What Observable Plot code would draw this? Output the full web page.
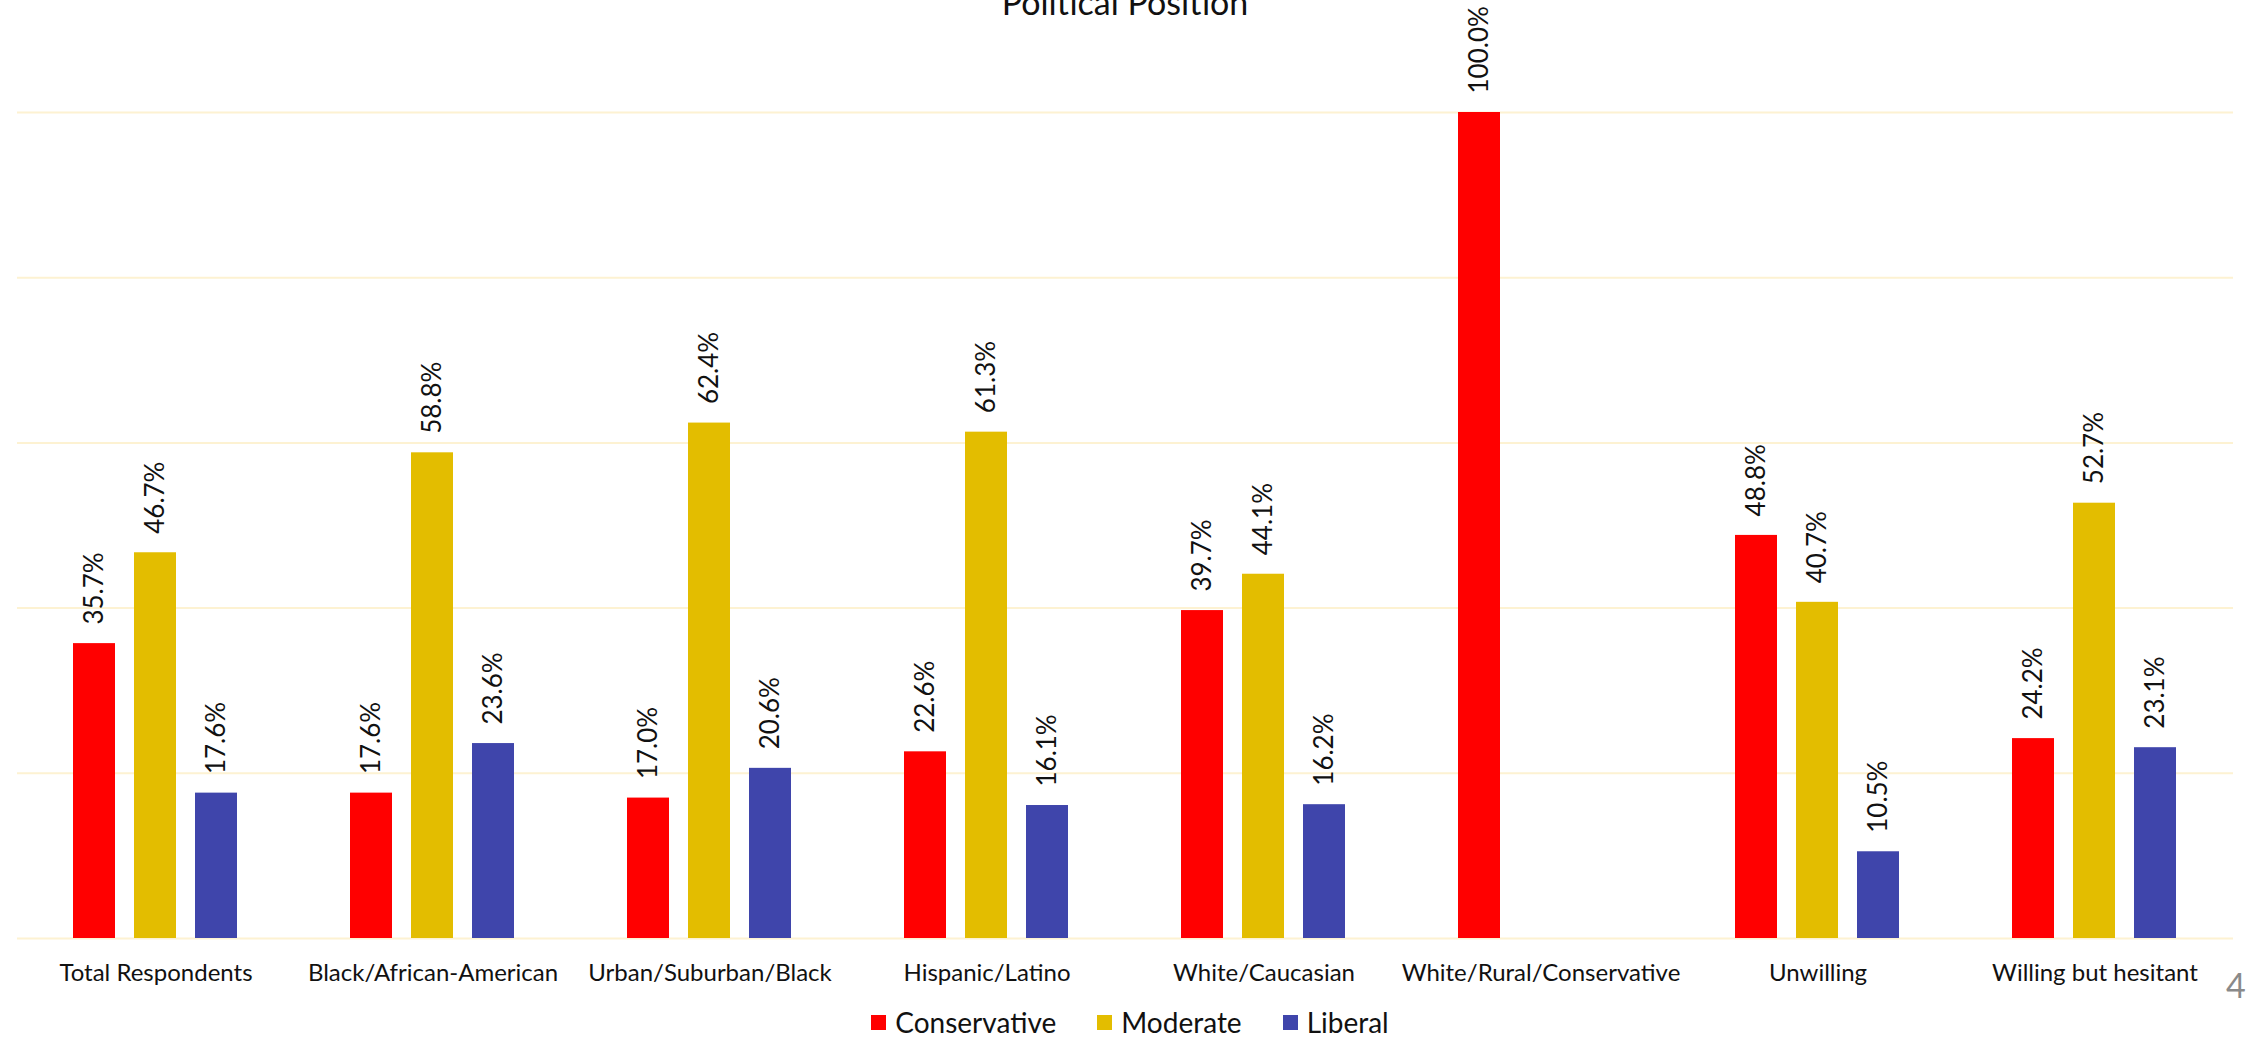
<!DOCTYPE html>
<html>
<head>
<meta charset="utf-8">
<script src="https://cdn.jsdelivr.net/npm/d3@7"></script>
<script src="https://cdn.jsdelivr.net/npm/@observablehq/plot@0.6"></script>
<style>
html, body { margin: 0; padding: 0; background: #fff; overflow: hidden; width: 2250px; height: 1038px; }
#wrap { position: relative; width: 2250px; height: 1038px; font-family: Lato, sans-serif; overflow: hidden; }
#title { position: absolute; left: 0; top: -15px; width: 2250px; text-align: center; font-size: 34px; line-height: 1; color: #111; }
#chart { position: absolute; left: 0; top: 0; }
#legend { position: absolute; left: 0; top: 1008px; width: 2250px; padding-left: 10px; box-sizing: border-box; line-height: 1; }
#legend > div { justify-content: center !important; font-size: 28px !important; font-family: Lato, sans-serif !important; color: #111 !important; margin: 0 !important; min-height: 28px !important; line-height: 1 !important; }
#legend [class$="-swatch"] { margin-right: 41px !important; line-height: 1 !important; }
#legend [class$="-swatch"]:last-child { margin-right: 0 !important; }
#legend [class$="-swatch"] > svg { margin-right: 9px !important; }
#pagenum { position: absolute; left: 2226px; top: 968px; font-size: 34px; line-height: 1; color: #8a8a8a; font-family: Lato, sans-serif; }
</style>
</head>
<body>
<div id="wrap">
  <div id="chart"></div>
  <div id="title">Political Position</div>
  <div id="legend"></div>
  <div id="pagenum">4</div>
</div>
<script>
const categories = ["Total Respondents", "Black/African-American", "Urban/Suburban/Black", "Hispanic/Latino", "White/Caucasian", "White/Rural/Conservative", "Unwilling", "Willing but hesitant"];
const series = ["Conservative", "Moderate", "Liberal"];
const conservative = [35.7, 17.6, 17.0, 22.6, 39.7, 100.0, 48.8, 24.2];
const moderate = [46.7, 58.8, 62.4, 61.3, 44.1, 0, 40.7, 52.7];
const liberal = [17.6, 23.6, 20.6, 16.1, 16.2, 0, 10.5, 23.1];
const colors = ["#ff0000", "#e3bd00", "#3f45ab"];
const gridTicks = [0, 20, 40, 60, 80, 100];

const seriesValues = [conservative, moderate, liberal];
const rows = categories.flatMap((c, i) =>
  series.map((s, j) => ({group: c, series: s, value: seriesValues[j][i]}))
).filter(d => d.value > 0);

const chart = Plot.plot({
  width: 2250,
  height: 995,
  marginTop: 112,
  marginBottom: 57,
  marginLeft: 14,
  marginRight: 15,
  style: {fontFamily: "Lato, sans-serif", fontSize: "24px", color: "#111", background: "white", overflow: "visible"},
  fx: {domain: categories, padding: 0, axis: "bottom", label: null, tickSize: 0, tickPadding: 25},
  x: {domain: series, paddingInner: 0.3065, paddingOuter: 0.892, axis: null},
  y: {domain: [0, 100], axis: null},
  color: {domain: series, range: colors},
  marks: [
    Plot.ruleY(gridTicks, {stroke: "#fdf2d2", strokeWidth: 2}),
    Plot.barY(rows, {fx: "group", x: "series", y: "value", fill: "series"}),
    Plot.text(rows, {
      fx: "group", x: "series", y: "value",
      text: d => d.value.toFixed(1) + "%",
      rotate: -90, textAnchor: "start", lineAnchor: "middle",
      dy: -19, fontSize: 26, fill: "#111"
    })
  ]
});
document.getElementById("chart").appendChild(chart);

const legend = Plot.legend({
  color: {type: "categorical", domain: series, range: colors},
  legend: "swatches",
  swatchSize: 15
});
document.getElementById("legend").appendChild(legend);
</script>
</body>
</html>
